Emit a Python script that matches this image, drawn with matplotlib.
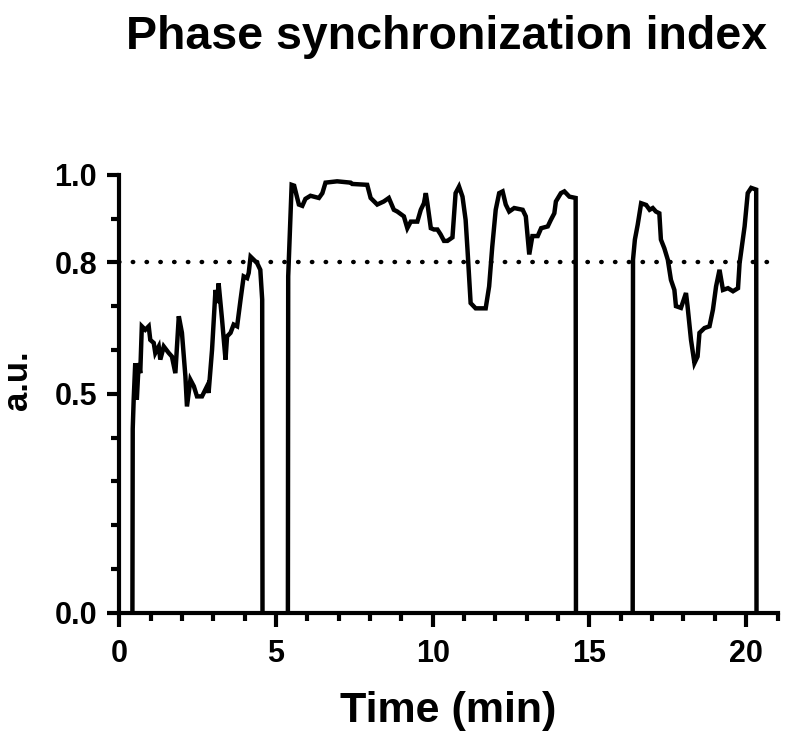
import numpy as np
import matplotlib
matplotlib.use("Agg")
import matplotlib.pyplot as plt
from matplotlib.ticker import MultipleLocator, FixedLocator

plt.rcParams["font.family"] = ["Liberation Sans", "DejaVu Sans"]
plt.rcParams["font.weight"] = "bold"

# Recording segments (time in min, index in a.u.); gaps drop to 0
seg1_t = [0.42, 0.43, 0.46, 0.51, 0.56, 0.62, 0.67, 0.72, 0.83, 0.94, 0.99, 1.10, 1.15, 1.26,
          1.31, 1.42, 1.58, 1.68, 1.79, 1.90, 2.00, 2.11, 2.16, 2.27, 2.38, 2.48, 2.64, 2.80,
          2.85, 2.96, 3.07, 3.12, 3.17, 3.28, 3.39, 3.44, 3.55, 3.65, 3.76, 3.87, 3.97, 4.08,
          4.13, 4.19, 4.29, 4.40, 4.50, 4.56, 4.57]
seg1_v = [0.0, 0.42, 0.486, 0.57, 0.486, 0.57, 0.547, 0.654, 0.646, 0.654, 0.623, 0.616, 0.593,
          0.608, 0.578, 0.608, 0.593, 0.585, 0.547, 0.677, 0.639, 0.540, 0.471, 0.532, 0.517,
          0.494, 0.494, 0.517, 0.502, 0.600, 0.737, 0.707, 0.752, 0.669, 0.578, 0.631, 0.639,
          0.658, 0.654, 0.715, 0.768, 0.764, 0.776, 0.813, 0.806, 0.798, 0.783, 0.715, 0.0]

seg2_t = [5.38, 5.39, 5.50, 5.58, 5.73, 5.84, 5.94, 6.10, 6.37, 6.48, 6.58, 6.95, 7.38, 7.43,
          7.91, 8.02, 8.23, 8.44, 8.60, 8.76, 8.87, 9.08, 9.19, 9.30, 9.51, 9.62, 9.72, 9.78,
          9.83, 9.94, 10.04, 10.15, 10.25, 10.36, 10.47, 10.63, 10.73, 10.84, 10.95, 11.05,
          11.11, 11.21, 11.37, 11.69, 11.80, 11.90, 12.01, 12.12, 12.23, 12.33, 12.44, 12.60,
          12.87, 12.97, 13.08, 13.18, 13.35, 13.46, 13.67, 13.77, 13.88, 13.93, 14.09, 14.20,
          14.36, 14.56, 14.57]
seg2_v = [0.0, 0.768, 0.977, 0.975, 0.932, 0.929, 0.945, 0.952, 0.947, 0.958, 0.982, 0.985,
          0.982, 0.979, 0.977, 0.947, 0.932, 0.939, 0.947, 0.920, 0.916, 0.905, 0.878, 0.893,
          0.893, 0.920, 0.935, 0.958, 0.935, 0.878, 0.875, 0.875, 0.864, 0.849, 0.849, 0.857,
          0.958, 0.973, 0.950, 0.897, 0.829, 0.707, 0.695, 0.695, 0.745, 0.836, 0.920, 0.958,
          0.962, 0.932, 0.916, 0.924, 0.920, 0.905, 0.818, 0.860, 0.860, 0.878, 0.882, 0.897,
          0.912, 0.939, 0.958, 0.962, 0.950, 0.947, 0.0]

seg3_t = [16.38, 16.39, 16.45, 16.54, 16.65, 16.81, 16.92, 17.02, 17.12, 17.23, 17.28, 17.39,
          17.50, 17.60, 17.71, 17.76, 17.92, 18.08, 18.13, 18.24, 18.35, 18.45, 18.51, 18.67,
          18.83, 18.94, 19.04, 19.15, 19.26, 19.42, 19.58, 19.74, 19.79, 19.95, 20.05, 20.16,
          20.32, 20.33]
seg3_v = [0.0, 0.806, 0.852, 0.886, 0.935, 0.931, 0.920, 0.924, 0.916, 0.912, 0.852, 0.832,
          0.806, 0.760, 0.737, 0.700, 0.696, 0.730, 0.700, 0.623, 0.570, 0.585, 0.639, 0.650,
          0.654, 0.692, 0.745, 0.783, 0.737, 0.741, 0.734, 0.741, 0.798, 0.882, 0.958, 0.970,
          0.966, 0.0]

threshold = 0.8
y_ticks = [0.0, 0.5, 0.8, 1.0]
y_tick_labels = ["0.0", "0.5", "0.8", "1.0"]
x_ticks = [0, 5, 10, 15, 20]

fig = plt.figure(figsize=(7.95, 7.5), dpi=100)
ax = fig.add_axes([0.150, 0.183, 0.828, 0.584])

for t, v in [(seg1_t, seg1_v), (seg2_t, seg2_v), (seg3_t, seg3_v)]:
    ax.plot(t, v, color="black", lw=3.2, solid_joinstyle="miter", clip_on=False, zorder=3)

ax.axhline(threshold, color="black", lw=3.2, ls=(0, (0.1, 3.0)),
           dash_capstyle="round", zorder=2)

ax.set_xlim(0, 21)
ax.set_ylim(0, 1.0)
ax.xaxis.set_major_locator(FixedLocator(x_ticks))
ax.xaxis.set_minor_locator(MultipleLocator(1))
ax.yaxis.set_major_locator(FixedLocator(y_ticks))
ax.set_yticklabels(y_tick_labels)
ax.yaxis.set_minor_locator(MultipleLocator(0.1))

for s in ["top", "right"]:
    ax.spines[s].set_visible(False)
for s in ["left", "bottom"]:
    ax.spines[s].set_linewidth(3)

ax.tick_params(which="major", length=10, width=3, labelsize=22, pad=9)
ax.tick_params(which="minor", length=5.5, width=3)
ax.tick_params(axis="y", which="major", length=9, pad=7)

for lab in ax.get_xticklabels() + ax.get_yticklabels():
    lab.set_fontweight("bold")

ax.set_xlabel("Time (min)", fontsize=31, fontweight="bold", labelpad=16)
ax.set_ylabel("a.u.", fontsize=25, fontweight="bold")
ax.yaxis.set_label_coords(-0.130, 0.53)
fig.text(0.562, 0.935, "Phase synchronization index", fontsize=33.5, fontweight="bold",
         ha="center", va="baseline")

fig.savefig("out.png", dpi=100)
